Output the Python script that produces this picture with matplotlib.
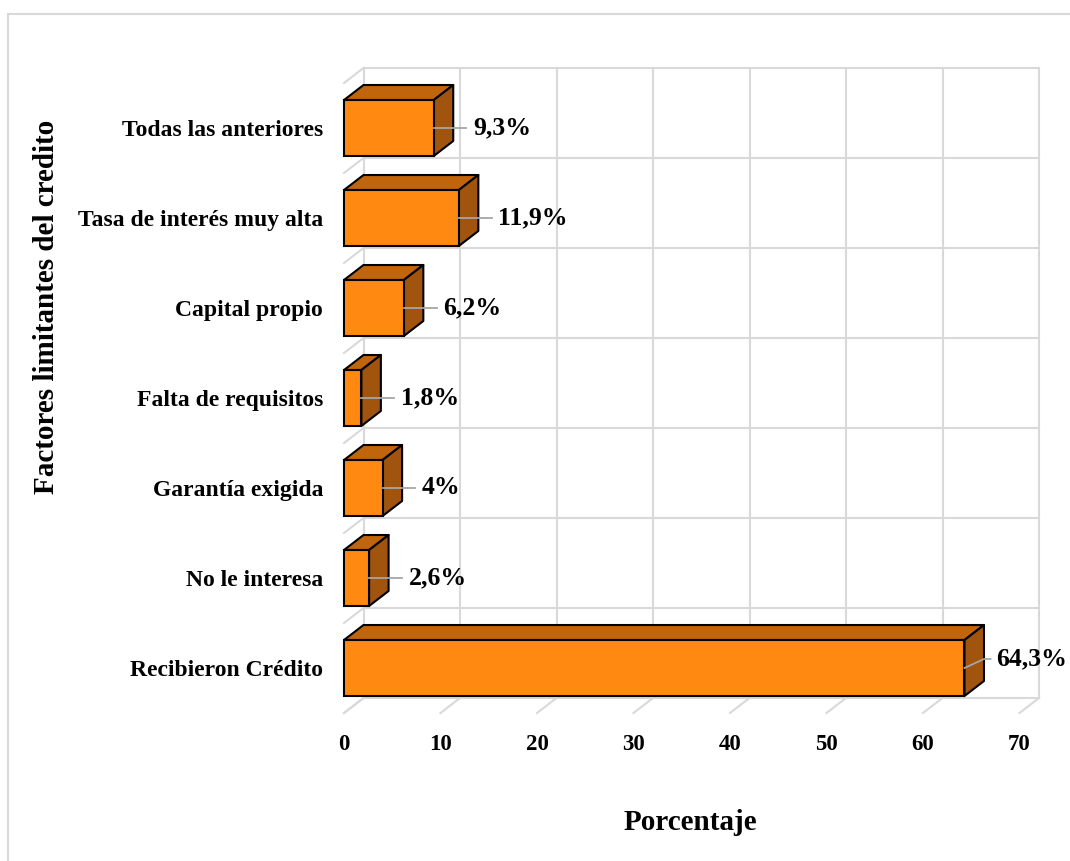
import matplotlib.pyplot as plt
from matplotlib.patches import Polygon, Rectangle

# Factores limitantes del crédito (%)
categorias = ['Recibieron Crédito', 'No le interesa', 'Garantía exigida',
              'Falta de requisitos', 'Capital propio', 'Tasa de interés muy alta',
              'Todas las anteriores']
porcentajes = [64.3, 2.6, 4.0, 1.8, 6.2, 11.9, 9.3]
etiquetas = ['64,3%', '2,6%', '4%', '1,8%', '6,2%', '11,9%', '9,3%']
ticks_x = [0, 10, 20, 30, 40, 50, 60, 70]

FUENTE = 'Liberation Serif'
GRIS = '#d9d9d9'
FRENTE = '#ff8911'
TAPA = '#c0650c'
LADO = '#a0540e'

W, H = 1070, 861
fig = plt.figure(figsize=(W / 100, H / 100), dpi=100)

# the axes is the front plane of the 3D box
x0, x1 = 344, 1019.5
y_top, y_bot = 83, 713
ax = fig.add_axes([x0 / W, 1 - y_bot / H, (x1 - x0) / W, (y_bot - y_top) / H])
ax.set_xlim(0, 70)
ax.set_ylim(-0.5, 6.5)
for s in ax.spines.values():
    s.set_visible(False)

# depth of the box in data units (about 20 px right, 15 px up)
dx = 19.5 * 70 / (x1 - x0)
dy = 15 / 90
n = len(categorias)
ybase, ytop = -0.5, n - 0.5

# back wall: vertical gridlines and category separators
for t in ticks_x:
    ax.plot([t + dx, t + dx], [ybase + dy, ytop + dy], color=GRIS, lw=1.5,
            zorder=1, clip_on=False)
    # floor lines
    ax.plot([t, t + dx], [ybase, ybase + dy], color=GRIS, lw=1.5,
            zorder=1, clip_on=False)
for k in range(n + 1):
    yk = k - 0.5
    ax.plot([dx, 70 + dx], [yk + dy, yk + dy], color=GRIS, lw=1.5,
            zorder=1, clip_on=False)
    # left wall
    ax.plot([0, dx], [yk, yk + dy], color=GRIS, lw=1.5, zorder=1, clip_on=False)

# 3D bars
h = 0.311
for i, v in enumerate(porcentajes):
    frente = Rectangle((0, i - h), v, 2 * h, fc=FRENTE, ec='black', lw=1.5,
                       zorder=4, clip_on=False)
    tapa = Polygon([(0, i + h), (v, i + h), (v + dx, i + h + dy), (dx, i + h + dy)],
                   closed=True, fc=TAPA, ec='black', lw=1.5, zorder=3,
                   joinstyle='round', clip_on=False)
    lado = Polygon([(v, i - h), (v + dx, i - h + dy), (v + dx, i + h + dy), (v, i + h)],
                   closed=True, fc=LADO, ec='black', lw=1.5, zorder=3,
                   joinstyle='round', clip_on=False)
    ax.add_patch(tapa)
    ax.add_patch(lado)
    ax.add_patch(frente)

    # data labels with leader lines
    lx = v + dx + 2.07
    ly = i
    if lx > 67.6:
        lx = 67.6
        ly = i + 0.1
        xs, ys = [v, v + dx, lx - 0.6], [i, ly, ly]
    else:
        xs, ys = [v, lx - 0.7], [i, i]
    ax.plot(xs, ys, color='#a6a6a6', lw=1.3, zorder=5, clip_on=False)
    ax.text(lx, ly, etiquetas[i], ha='left', va='center', fontsize=18.5,
            fontweight='bold', family=FUENTE, zorder=6)

ax.set_xticks(ticks_x, [str(t) for t in ticks_x])
ax.set_yticks(range(n), categorias)
ax.tick_params(axis='x', length=0, pad=15, labelsize=16.5)
ax.tick_params(axis='y', length=0, pad=15, labelsize=17)
for lab in ax.get_xticklabels() + ax.get_yticklabels():
    lab.set_family(FUENTE)
    lab.set_fontweight('bold')

fig.text(690 / W, 1 - 822 / H, 'Porcentaje', ha='center', va='center',
         fontsize=21, fontweight='bold', family=FUENTE)
fig.text(47 / W, 1 - 307 / H, 'Factores limitantes del credito', ha='center',
         va='center', rotation=90, fontsize=21, fontweight='bold', family=FUENTE)

# chart area border
fig.patches.append(Rectangle((8 / W, -0.1), 1.2, 1 - 14 / H + 0.1,
                             transform=fig.transFigure, fill=False,
                             ec=GRIS, lw=1.5))

fig.savefig('out.png', dpi=100)
